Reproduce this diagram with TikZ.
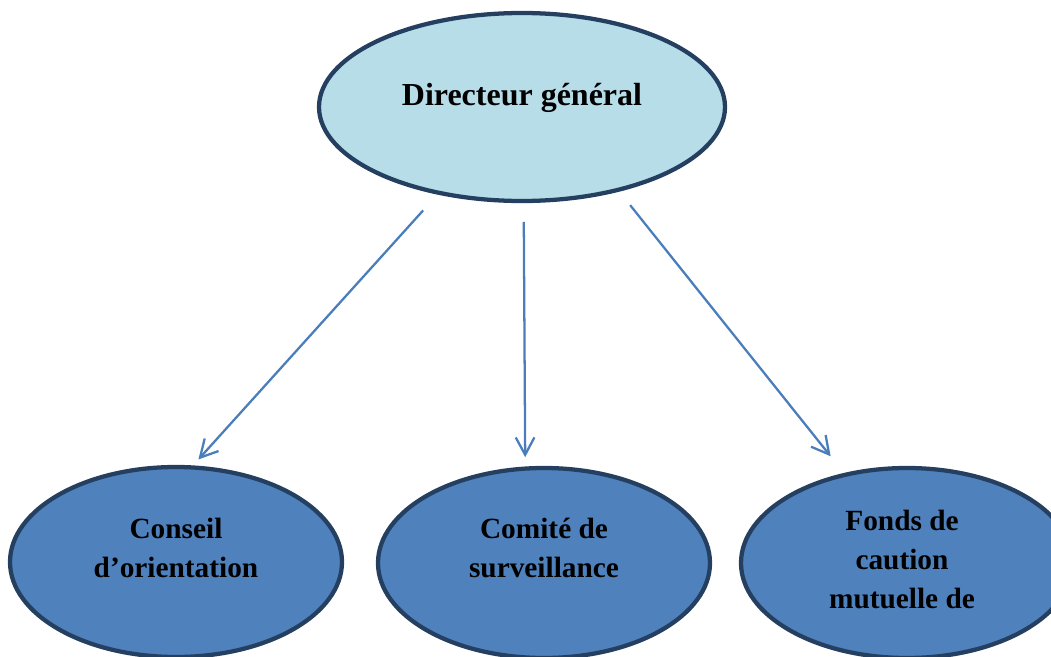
\documentclass[tikz,border=0pt]{standalone}
\usepackage{fontspec}
\setmainfont{Liberation Serif}
\usepackage{xcolor}
\usetikzlibrary{shapes.geometric, arrows.meta}

\definecolor{chefbleu}{HTML}{B7DDE8}
\definecolor{servbleu}{HTML}{4F81BD}
\definecolor{bord}{HTML}{243F60}
\definecolor{fleche}{HTML}{4A7EBB}

\tikzset{
  chef/.style={ellipse, draw=bord, line width=3.2pt, fill=chefbleu, minimum width=304.5pt, minimum height=141pt},
  service/.style={ellipse, draw=bord, line width=3.2pt, fill=servbleu, minimum width=249pt, minimum height=142.5pt},
  titre/.style={font=\bfseries\fontsize{24}{29}\selectfont},
  texte/.style={align=center, font=\bfseries\fontsize{22}{29}\selectfont},
  lien/.style={draw=fleche, line width=1.7pt, -{Straight Barb[length=13pt, width=14pt]}},
}

\begin{document}
\begin{tikzpicture}[x=0.75pt, y=-0.75pt]
        \clip (0,0) rectangle (1051,657);

        \node[chef] (dg) at (522,107) {};
        \node[titre, anchor=base] (dgtxt) at (522,105) {Directeur général};

        \node[service] (co) at (176,562) {};
        \node[texte, anchor=base] (cotxt) at (176,577) {Conseil\\d’orientation};

        \node[service] (cs) at (544,563) {};
        \node[texte, anchor=base] (cstxt) at (544,577) {Comité de\\surveillance};

        \node[service] (fc) at (907,563) {};
        \node[texte, anchor=base] (fctxt) at (902,608) {Fonds de\\caution\\mutuelle de};

        \draw[lien, shorten <=16pt, shorten >=6pt] (dg.226) -- (co.80);
        \draw[lien, shorten <=14pt, shorten >=7pt] (dg.271) -- (cs.101);
        \draw[lien, shorten <=13pt, shorten >=16pt] (dg.319) -- (fc.125);
    \end{tikzpicture}
\end{document}
